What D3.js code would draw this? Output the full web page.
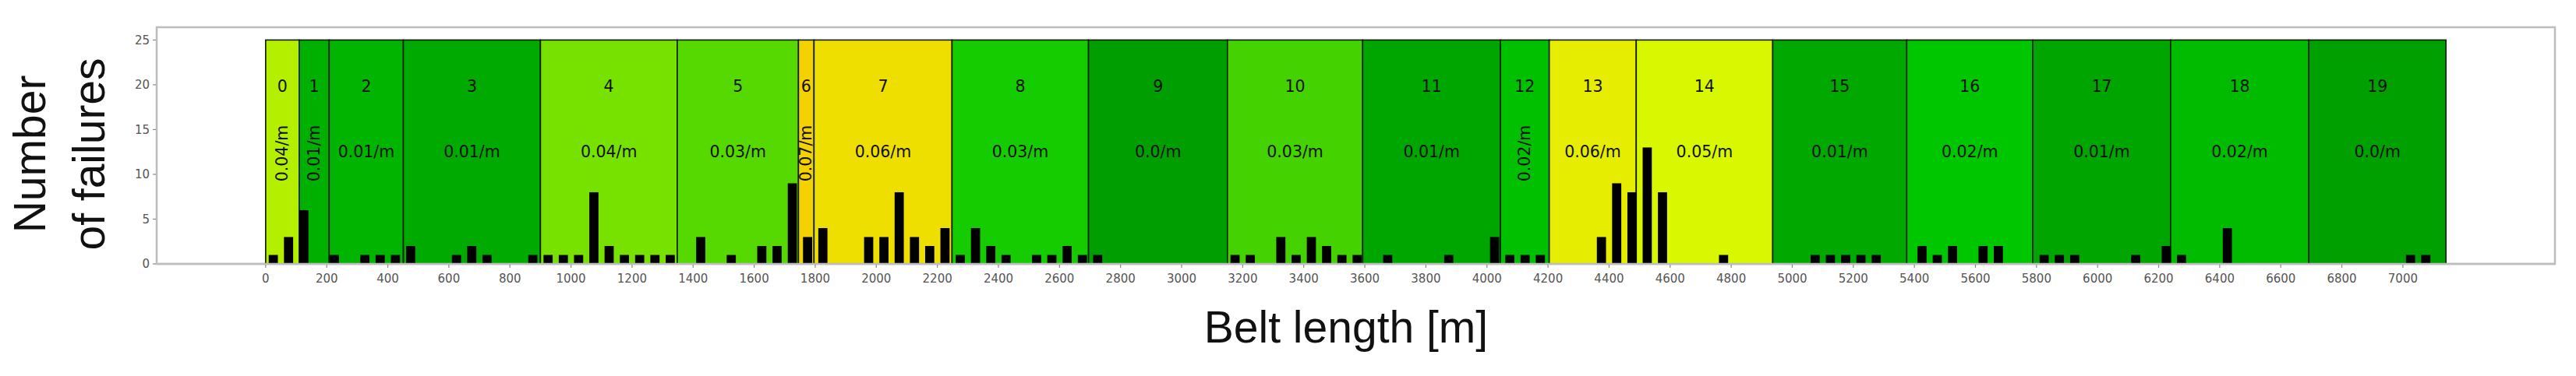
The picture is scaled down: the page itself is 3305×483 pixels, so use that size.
<!DOCTYPE html>
<html>
<head>
<meta charset="utf-8">
<script src="https://cdn.jsdelivr.net/npm/d3@7/dist/d3.min.js"></script>
<style>
  body { margin: 0; background: #fff; }
  svg { display: block; }
</style>
</head>
<body>
<script>
// section borders along the belt [m]
var edges = [0, 110, 208, 451, 900, 1348, 1745, 1796, 2248, 2695, 3150,
             3593, 4044, 4204, 4489, 4936, 5375, 5788, 6239, 6692, 7141];
var sections = ['0', '1', '2', '3', '4', '5', '6', '7', '8', '9',
                '10', '11', '12', '13', '14', '15', '16', '17', '18', '19'];
var rates = ['0.04/m', '0.01/m', '0.01/m', '0.01/m', '0.04/m', '0.03/m', '0.07/m',
             '0.06/m', '0.03/m', '0.0/m', '0.03/m', '0.01/m', '0.02/m', '0.06/m',
             '0.05/m', '0.01/m', '0.02/m', '0.01/m', '0.02/m', '0.0/m'];
var colors = ['#b5ef00', '#00b000', '#00b400', '#00aa00', '#77e100', '#55d900', '#f3d200',
              '#eedf00', '#14cc00', '#009e00', '#44d300', '#00a600', '#00c000', '#e6ed00',
              '#d9f800', '#00a800', '#00c600', '#00a500', '#00bb00', '#00a000'];

// failures counted per 50 m of belt
var binSize = 50;
var counts = [
  1, 3, 6, 0, 1, 0, 1, 1, 1, 2,
  0, 0, 1, 2, 1, 0, 0, 1, 1, 1,
  1, 8, 2, 1, 1, 1, 1, 0, 3, 0,
  1, 0, 2, 2, 9, 3, 4, 0, 0, 3,
  3, 8, 3, 2, 4, 1, 4, 2, 1, 0,
  1, 1, 2, 1, 1, 0, 0, 0, 0, 0,
  0, 0, 0, 1, 1, 0, 3, 1, 3, 2,
  1, 1, 0, 1, 0, 0, 0, 1, 0, 0,
  3, 1, 1, 1, 0, 0, 0, 3, 9, 8,
  13, 8, 0, 0, 0, 1, 0, 0, 0, 0,
  0, 1, 1, 1, 1, 1, 0, 0, 2, 1,
  2, 0, 2, 2, 0, 0, 1, 1, 1, 0,
  0, 0, 1, 0, 2, 1, 0, 0, 4, 0,
  0, 0, 0, 0, 0, 0, 0, 0, 0, 0,
  1, 1, 0
];

var xTicks = d3.range(0, 7001, 200);
var yTicks = [0, 5, 10, 15, 20, 25];

var width = 3305, height = 483;
var plotLeft = 201, plotRight = 3278, plotTop = 37, plotBottom = 339;

var svg = d3.select('body').append('svg')
    .attr('width', width)
    .attr('height', height);

var x = d3.scaleLinear().domain([-357, 7498]).range([plotLeft, plotRight]);
var y = d3.scaleLinear().domain([0, 26.25]).range([plotBottom, plotTop]);

// axes frame
svg.append('rect')
    .attr('x', plotLeft).attr('y', plotTop - 2)
    .attr('width', plotRight - plotLeft).attr('height', plotBottom - plotTop + 2)
    .attr('fill', '#fff')
    .attr('stroke', '#bdbdbd')
    .attr('stroke-width', 2.5);

// coloured sections
var sec = svg.append('g').selectAll('g')
  .data(sections)
  .enter().append('g');

sec.append('rect')
    .attr('x', function(d, i) { return x(edges[i]); })
    .attr('y', y(25))
    .attr('width', function(d, i) { return x(edges[i + 1]) - x(edges[i]); })
    .attr('height', y(0) - y(25))
    .attr('fill', function(d, i) { return colors[i]; })
    .attr('stroke', '#0b1a00')
    .attr('stroke-width', 1.6);

sec.append('text')
    .attr('x', function(d, i) { return x((edges[i] + edges[i + 1]) / 2); })
    .attr('y', 118)
    .attr('text-anchor', 'middle')
    .attr('font-family', 'DejaVu Sans')
    .attr('font-size', 20.5)
    .attr('fill', '#111')
    .text(function(d) { return d; });

// narrow sections get their rate turned upright
sec.append('text')
    .attr('transform', function(d, i) {
      var cx = x((edges[i] + edges[i + 1]) / 2);
      var narrow = edges[i + 1] - edges[i] < 200;
      return narrow ? 'translate(' + cx + ',197) rotate(-90)' : 'translate(' + cx + ',201.5)';
    })
    .attr('dominant-baseline', function(d, i) {
      return edges[i + 1] - edges[i] < 200 ? 'central' : 'auto';
    })
    .attr('text-anchor', 'middle')
    .attr('font-family', 'DejaVu Sans')
    .attr('font-size', 20.5)
    .attr('fill', '#111')
    .text(function(d, i) { return rates[i]; });

// failure bars
svg.append('g').selectAll('rect')
  .data(counts)
  .enter().append('rect')
    .attr('x', function(d, i) { return x(i * binSize + 10); })
    .attr('y', function(d) { return y(d); })
    .attr('width', x(30) - x(0))
    .attr('height', function(d) { return y(0) - y(d); })
    .attr('fill', '#000')
    .attr('stroke', function(d) { return d ? 'none' : '#3a4a40'; })
    .attr('stroke-opacity', 0.6)
    .attr('stroke-width', 1.5);

// x axis
var xAxis = svg.append('g').attr('transform', 'translate(0,' + plotBottom + ')');
xAxis.append('line')
    .attr('x1', plotLeft).attr('x2', plotRight)
    .attr('stroke', '#bdbdbd').attr('stroke-width', 2.5);
xAxis.selectAll('g')
  .data(xTicks)
  .enter().append('g')
    .attr('transform', function(d) { return 'translate(' + x(d) + ',0)'; })
    .each(function(d) {
      var g = d3.select(this);
      g.append('line').attr('y1', 1).attr('y2', 5).attr('stroke', '#888').attr('stroke-width', 1.2);
      g.append('text')
          .attr('y', 24)
          .attr('text-anchor', 'middle')
          .attr('font-family', 'DejaVu Sans')
          .attr('font-size', 15)
          .attr('fill', '#555')
          .text(d);
    });

// y axis
var yAxis = svg.append('g').attr('transform', 'translate(' + plotLeft + ',0)');
yAxis.selectAll('g')
  .data(yTicks)
  .enter().append('g')
    .attr('transform', function(d) { return 'translate(0,' + y(d) + ')'; })
    .each(function(d) {
      var g = d3.select(this);
      g.append('line').attr('x1', -1).attr('x2', -5).attr('stroke', '#888').attr('stroke-width', 1.2);
      g.append('text')
          .attr('x', -9)
          .attr('dy', '0.35em')
          .attr('text-anchor', 'end')
          .attr('font-family', 'DejaVu Sans')
          .attr('font-size', 15)
          .attr('fill', '#555')
          .text(d);
    });

// axis titles
svg.append('text')
    .attr('transform', 'translate(58,198) rotate(-90)')
    .attr('text-anchor', 'middle')
    .attr('font-family', 'Liberation Sans')
    .attr('font-size', 57)
    .attr('fill', '#111')
    .text('Number');
svg.append('text')
    .attr('transform', 'translate(134,198) rotate(-90)')
    .attr('text-anchor', 'middle')
    .attr('font-family', 'Liberation Sans')
    .attr('font-size', 57)
    .attr('fill', '#111')
    .text('of failures');
svg.append('text')
    .attr('x', 1727)
    .attr('y', 440)
    .attr('text-anchor', 'middle')
    .attr('font-family', 'Liberation Sans')
    .attr('font-size', 57)
    .attr('fill', '#111')
    .text('Belt length [m]');
</script>
</body>
</html>
